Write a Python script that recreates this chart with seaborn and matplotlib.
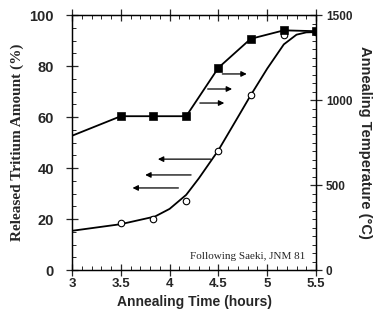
import pandas as pd
import seaborn as sns
import matplotlib.pyplot as plt
from matplotlib.ticker import MultipleLocator, FormatStrFormatter

# annealing temperature (right axis), squares
temp_time = [3.0, 3.5, 3.83, 4.17, 4.5, 4.83, 5.17, 5.5]
temp_c = [790, 905, 905, 905, 1190, 1360, 1410, 1405]

# released tritium (left axis), open circles
rel_time = [3.5, 3.83, 4.17, 4.5, 4.83, 5.17, 5.5]
rel_pct = [18.3, 20.1, 27.2, 46.7, 68.6, 92.3, 93.3]

# smooth guide curve through the release data
curve_time = [3.0, 3.5, 3.85, 4.0, 4.17, 4.3, 4.5, 4.7, 4.83, 5.0, 5.17, 5.3, 5.4, 5.5]
curve_pct = [15.4, 18.0, 21.0, 24.0, 29.5, 36.0, 47.0, 60.0, 68.5, 79.0, 88.5, 92.3, 93.2, 93.3]

# arrows (start x, end x, y in %)
arrows = [(4.54, 4.79, 76.9), (4.39, 4.64, 71.0), (4.31, 4.56, 65.5),
          (4.42, 3.88, 43.5), (4.22, 3.75, 37.3), (4.09, 3.62, 32.2)]

sns.set_style('ticks')
sans = 'Liberation Sans'
serif = 'Liberation Serif'

fig = plt.figure(figsize=(3.74, 3.2), dpi=100)
ax = fig.add_axes([0.1925, 0.156, 0.6525, 0.797])
ax2 = ax.twinx()

sns.lineplot(x=curve_time, y=curve_pct, ax=ax, color='black', lw=1.3)
sns.scatterplot(x=rel_time, y=rel_pct, ax=ax, marker='o', s=22,
                facecolor='white', edgecolor='black', linewidth=0.8, zorder=5)

sns.lineplot(x=temp_time, y=temp_c, ax=ax2, color='black', lw=1.3)
sns.scatterplot(x=temp_time[1:], y=temp_c[1:], ax=ax2, marker='s', s=34,
                color='black', edgecolor='black', zorder=5)

for x0, x1, y in arrows:
    ax.annotate('', xy=(x1, y), xytext=(x0, y),
                arrowprops=dict(arrowstyle='-|>', color='black', lw=0.9,
                                mutation_scale=8, shrinkA=0, shrinkB=0))

ax.set_xlim(3, 5.5)
ax.set_ylim(0, 100)
ax2.set_ylim(0, 1500)

ax.xaxis.set_major_locator(MultipleLocator(0.5))
ax.xaxis.set_minor_locator(MultipleLocator(0.1))
ax.xaxis.set_major_formatter(FormatStrFormatter('%g'))
ax.yaxis.set_major_locator(MultipleLocator(20))
ax.yaxis.set_minor_locator(MultipleLocator(5))
ax2.yaxis.set_major_locator(MultipleLocator(500))
ax2.yaxis.set_minor_locator(MultipleLocator(50))

ax.tick_params(axis='both', which='major', direction='inout', length=8, width=0.9,
               top=True, labelsize=10.5)
ax.tick_params(axis='y', pad=9)
ax.tick_params(axis='both', which='minor', direction='in', length=3, width=0.7, top=True)
ax.tick_params(axis='x', labelsize=9.5, pad=2)
ax2.tick_params(axis='y', which='major', direction='inout', length=8, width=0.9,
                labelsize=8.5, pad=3)
ax2.tick_params(axis='y', which='minor', direction='in', length=3, width=0.7)

for lab in ax.get_xticklabels() + ax.get_yticklabels() + ax2.get_yticklabels():
    lab.set_fontfamily(sans)
    lab.set_fontweight('bold')

for a in (ax, ax2):
    for sp in a.spines.values():
        sp.set_visible(True)
        sp.set_linewidth(0.9)
        sp.set_color('black')

ax.set_xlabel('Annealing Time (hours)', fontfamily=sans, fontweight='bold', fontsize=10, labelpad=3)
ax.set_ylabel('Released Tritium Amount (%)', fontfamily=serif, fontweight='bold', fontsize=11, labelpad=4)
ax2.set_ylabel('Annealing Temperature (°C)', fontfamily=sans, fontweight='bold', fontsize=10.5,
               rotation=270, labelpad=14)

ax.text(5.39, 3.5, 'Following Saeki, JNM 81', fontfamily=serif,
        fontsize=8, ha='right', va='bottom')

fig.savefig('out.png', dpi=100)
